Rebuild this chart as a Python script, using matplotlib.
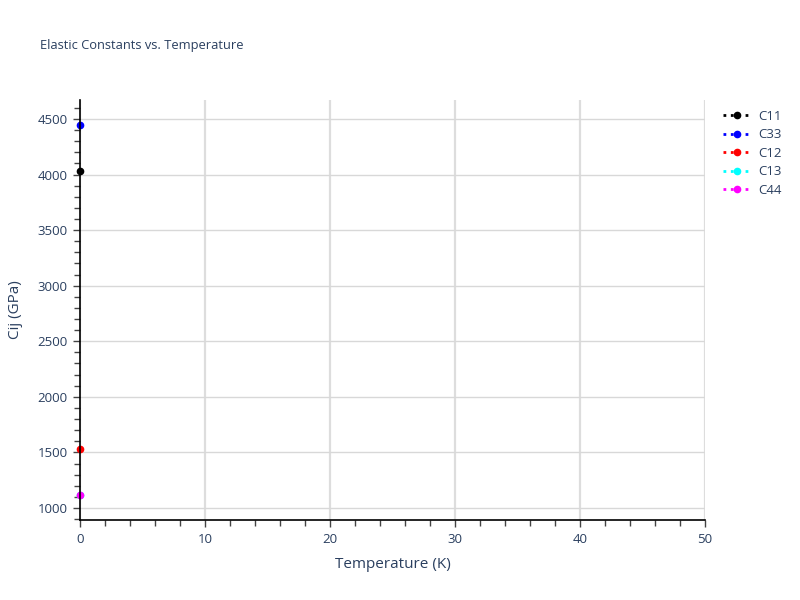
import matplotlib
matplotlib.use("Agg")
import matplotlib.pyplot as plt
from matplotlib.ticker import MultipleLocator
from matplotlib.lines import Line2D

plt.rcParams['font.family'] = ['Open Sans', 'DejaVu Sans']

temperature = [0]
series_names = ["C11", "C33", "C12", "C13", "C44"]
series_values = {
    "C11": [4030],
    "C33": [4445],
    "C12": [1528],
    "C13": [1115],
    "C44": [1115],
}
series_colors = {"C11": "black", "C33": "blue", "C12": "red", "C13": "cyan", "C44": "magenta"}

text_color = "#2a3f5f"

fig = plt.figure(figsize=(8, 6), dpi=100)
ax = fig.add_axes([0.1, 0.1333, 0.78125, 0.70])

for name in series_names:
    ax.plot(temperature, series_values[name], linestyle=":", color=series_colors[name],
            marker="o", markersize=4.5, linewidth=2, clip_on=False, zorder=3)

ax.set_xlim(0, 50)
ax.set_ylim(892, 4670)
ax.xaxis.set_major_locator(MultipleLocator(10))
ax.xaxis.set_minor_locator(MultipleLocator(2))
ax.yaxis.set_major_locator(MultipleLocator(500))
ax.yaxis.set_minor_locator(MultipleLocator(100))

ax.grid(True, which="major", axis="x", color="#dddddd", linewidth=1.6)
ax.grid(True, which="major", axis="y", color="#d8d8d8", linewidth=1.0)
ax.set_axisbelow(True)

for s in ["top", "right"]:
    ax.spines[s].set_visible(False)
for s in ["left", "bottom"]:
    ax.spines[s].set_color("black")
    ax.spines[s].set_linewidth(1.2)
    ax.spines[s].set_zorder(4)

ax.tick_params(axis="both", which="major", length=5, width=1, color="#444444",
               labelsize=9.5, labelcolor=text_color, pad=4)
ax.tick_params(axis="both", which="minor", length=4, width=1, color="#444444")

ax.set_xlabel("Temperature (K)", fontsize=11, color=text_color, labelpad=8)
ax.set_ylabel("Cij (GPa)", fontsize=11, color=text_color, labelpad=10)

fig.text(0.05, 0.925, "Elastic Constants vs. Temperature", fontsize=9.3,
         color=text_color, ha="left", va="center")

handles = [Line2D([0], [0], linestyle=":", color=series_colors[n], marker="o",
                  markersize=4.5, linewidth=2) for n in series_names]
leg = fig.legend(handles, series_names, loc="upper left", bbox_to_anchor=(0.897, 0.826),
                 frameon=False, fontsize=9.5, handlelength=2.2, labelspacing=0.42,
                 handletextpad=0.45, borderaxespad=0)
for t in leg.get_texts():
    t.set_color(text_color)

fig.savefig("out.png", dpi=100)
